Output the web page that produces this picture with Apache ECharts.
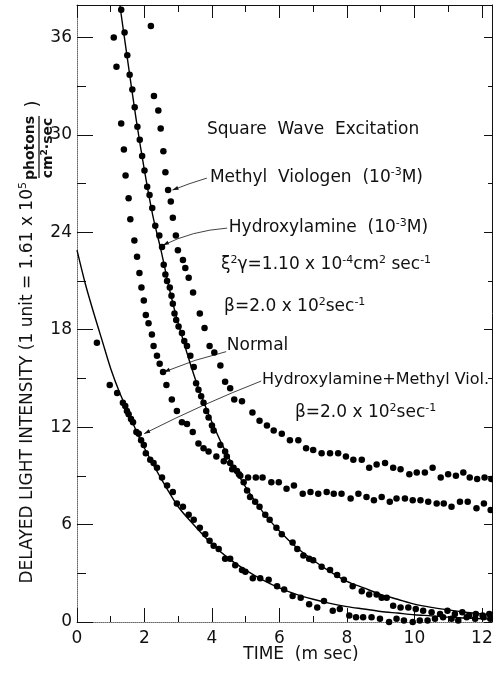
<!DOCTYPE html>
<html>
<head>
<meta charset="utf-8">
<script src="https://cdn.jsdelivr.net/npm/echarts@6/dist/echarts.min.js"></script>
<style>
  html, body { margin: 0; padding: 0; background: #fff; }
  #chart { width: 493px; height: 676px; }
</style>
</head>
<body>
<div id="chart"></div>
<script>
// [time (m sec), delayed light intensity]
const normal = [
  [1.09, 36.0], [1.17, 34.2], [1.31, 30.7], [1.39, 29.1], [1.44, 27.5], [1.53, 26.1], [1.58, 24.8],
  [1.70, 23.5], [1.78, 22.5], [1.85, 21.5], [1.91, 20.6], [1.98, 19.8], [2.04, 18.9], [2.12, 18.4],
  [2.22, 17.7], [2.27, 17.0], [2.37, 16.4], [2.45, 15.9], [2.55, 15.4], [2.65, 14.6], [2.81, 13.7],
  [2.96, 13.0], [3.11, 12.3], [3.26, 12.2], [3.43, 11.7], [3.60, 11.0], [3.75, 10.7], [3.90, 10.5],
  [4.13, 10.2], [4.35, 9.9], [4.60, 9.4], [4.80, 9.1], [5.07, 8.9], [5.30, 8.9], [5.50, 8.9],
  [5.76, 8.6], [5.98, 8.6], [6.21, 8.2], [6.43, 8.4], [6.69, 7.9], [6.92, 8.0], [7.15, 7.9],
  [7.40, 8.0], [7.61, 7.9], [7.84, 7.9], [8.11, 7.6], [8.34, 7.9], [8.58, 7.7], [8.80, 7.5],
  [9.03, 7.7], [9.27, 7.4], [9.47, 7.6], [9.72, 7.6], [9.95, 7.5], [10.18, 7.5], [10.41, 7.4],
  [10.66, 7.3], [10.87, 7.3], [11.10, 7.1], [11.35, 7.4], [11.58, 7.4], [11.84, 7.0], [12.06, 7.3],
  [12.26, 6.9]
];

const methylViologen = [
  [2.19, 36.7], [2.28, 32.4], [2.41, 31.5], [2.48, 30.4], [2.56, 29.0], [2.62, 27.7], [2.70, 26.6],
  [2.78, 25.9], [2.84, 24.9], [2.93, 23.8], [2.99, 22.9], [3.14, 22.3], [3.21, 21.8], [3.31, 21.2],
  [3.44, 20.3], [3.64, 19.0], [3.78, 18.1], [3.93, 17.0], [4.07, 16.6], [4.25, 15.8], [4.39, 14.8],
  [4.54, 14.4], [4.66, 13.7], [4.89, 13.6], [5.20, 12.9], [5.41, 12.4], [5.63, 12.1], [5.83, 11.8],
  [6.07, 11.6], [6.31, 11.2], [6.56, 11.2], [6.79, 10.7], [7.00, 10.6], [7.25, 10.4], [7.50, 10.4],
  [7.74, 10.4], [7.97, 10.2], [8.19, 10.0], [8.44, 10.0], [8.66, 9.5], [8.88, 9.7], [9.13, 9.8],
  [9.37, 9.5], [9.59, 9.4], [9.85, 9.1], [10.07, 9.2], [10.31, 9.2], [10.54, 9.5], [10.78, 8.9],
  [11.00, 9.1], [11.23, 9.0], [11.45, 9.2], [11.64, 8.9], [11.86, 8.8], [12.08, 8.9], [12.28, 8.8]
];

const hydroxylamine = [
  [1.31, 37.7], [1.41, 36.3], [1.49, 34.9], [1.56, 33.7], [1.64, 32.8], [1.71, 31.7], [1.79, 30.5],
  [1.86, 29.7], [1.93, 28.7], [2.00, 27.8], [2.08, 26.8], [2.15, 26.3], [2.23, 25.5], [2.32, 24.4],
  [2.44, 23.8], [2.52, 23.1], [2.57, 22.0], [2.62, 21.4], [2.67, 21.0], [2.75, 20.6], [2.80, 20.1],
  [2.84, 19.6], [2.89, 19.0], [2.94, 18.6], [3.01, 18.2], [3.11, 17.8], [3.18, 17.3], [3.26, 17.0],
  [3.36, 16.4], [3.46, 15.7], [3.53, 14.7], [3.60, 14.3], [3.68, 13.9], [3.75, 13.5], [3.83, 13.0],
  [3.90, 12.6], [4.00, 12.1], [4.05, 11.8], [4.25, 10.9], [4.39, 10.5], [4.44, 10.2], [4.54, 9.8],
  [4.64, 9.5], [4.74, 9.3], [4.84, 9.0], [4.94, 8.6], [5.04, 8.1], [5.13, 7.7], [5.28, 7.4],
  [5.41, 7.1], [5.58, 6.6], [5.71, 6.3], [5.91, 5.8], [6.07, 5.4], [6.39, 4.9], [6.53, 4.5],
  [6.71, 4.1], [6.88, 3.9], [7.00, 3.8], [7.25, 3.4], [7.50, 3.2], [7.71, 2.9], [7.91, 2.6],
  [8.17, 2.2], [8.44, 1.9], [8.66, 1.7], [8.88, 1.7], [9.03, 1.5], [9.18, 1.5], [9.37, 1.0],
  [9.59, 0.9], [9.82, 0.9], [10.04, 0.8], [10.26, 0.7], [10.51, 0.6], [10.76, 0.5], [10.98, 0.7],
  [11.20, 0.5], [11.42, 0.6], [11.62, 0.4], [11.82, 0.5], [12.02, 0.4], [12.22, 0.5]
];

const hydroxylamineMethylViol = [
  [0.59, 17.2], [0.97, 14.6], [1.19, 14.1], [1.36, 13.5], [1.43, 13.3], [1.48, 13.0], [1.53, 12.8],
  [1.60, 12.5], [1.66, 12.3], [1.76, 11.7], [1.83, 11.6], [1.90, 11.2], [1.98, 10.9], [2.04, 10.4],
  [2.17, 10.0], [2.27, 9.8], [2.37, 9.5], [2.52, 8.9], [2.67, 8.4], [2.84, 8.0], [2.96, 7.3],
  [3.14, 7.1], [3.31, 6.6], [3.46, 6.3], [3.64, 5.8], [3.80, 5.4], [3.93, 5.0], [4.05, 4.7],
  [4.20, 4.5], [4.39, 3.9], [4.54, 3.9], [4.69, 3.5], [4.89, 3.2], [4.99, 3.1], [5.21, 2.7],
  [5.43, 2.7], [5.68, 2.6], [5.93, 2.2], [6.14, 2.0], [6.39, 1.6], [6.63, 1.5], [6.88, 1.1],
  [7.12, 0.9], [7.32, 1.3], [7.58, 0.7], [7.79, 0.8], [8.07, 0.4], [8.27, 0.3], [8.48, 0.3],
  [8.73, 0.3], [8.98, 0.2], [9.25, 0.0], [9.47, 0.2], [9.69, 0.1], [9.95, 0.0], [10.16, 0.1],
  [10.39, 0.1], [10.61, 0.2], [10.85, 0.3], [11.10, 0.2], [11.30, 0.1], [11.55, 0.3], [11.80, 0.2],
  [12.05, 0.3], [12.25, 0.2]
];

// fitted curves
const hydroxylamineFit = [
  [1.27, 38.0], [1.5, 34.6], [1.75, 31.0], [2.0, 27.8], [2.25, 25.0], [2.5, 22.8], [2.75, 20.4],
  [3.0, 18.4], [3.5, 15.0], [4.0, 12.3], [4.5, 10.1], [5.0, 8.3], [5.5, 6.8], [6.0, 5.6],
  [6.5, 4.6], [7.0, 3.8], [7.5, 3.1], [8.0, 2.5], [8.5, 2.1], [9.0, 1.7], [9.5, 1.4], [10.0, 1.1],
  [10.5, 0.9], [11.0, 0.75], [11.5, 0.6], [12.0, 0.5], [12.3, 0.45]
];

const hydroxylamineMethylViolFit = [
  [0, 22.9], [0.25, 20.8], [0.5, 19.0], [0.75, 17.3], [1.0, 15.6], [1.25, 14.2], [1.5, 13.0],
  [1.75, 11.8], [2.0, 10.7], [2.5, 8.8], [3.0, 7.1], [3.5, 5.9], [4.0, 4.8], [4.5, 3.9],
  [5.0, 3.2], [5.5, 2.6], [6.0, 2.1], [6.5, 1.7], [7.0, 1.4], [7.5, 1.15], [8.0, 0.95], [8.5, 0.8],
  [9.0, 0.65], [9.5, 0.55], [10.0, 0.45], [10.5, 0.38], [11.0, 0.3], [11.5, 0.25], [12.0, 0.2],
  [12.3, 0.18]
];

// labels in the plot, placed in data units; ^{..} marks a superscript
const notes = [
  { text: 'Square  Wave  Excitation', at: [3.85, 30.3] },
  { text: 'Methyl  Viologen  (10^{-3}M)', at: [3.94, 27.4], from: [3.85, 27.34], bend: [3.3, 27.0], to: [2.83, 26.6] },
  { text: 'Hydroxylamine  (10^{-3}M)', at: [4.5, 24.3], from: [4.45, 24.26], bend: [3.4, 24.1], to: [2.55, 23.2] },
  { text: 'ξ^{2}γ=1.10 x 10^{-4}cm^{2} sec^{-1}', at: [4.27, 22.0] },
  { text: 'β=2.0 x 10^{2}sec^{-1}', at: [4.36, 19.4] },
  { text: 'Normal', at: [4.44, 17.0], from: [4.42, 16.65], bend: [3.5, 16.2], to: [2.58, 15.4] },
  { text: 'Hydroxylamine+Methyl Viol.', at: [5.48, 14.9], size: 16, from: [5.46, 14.84], bend: [3.8, 13.5], to: [1.99, 11.6] },
  { text: 'β=2.0 x 10^{2}sec^{-1}', at: [6.46, 12.9] }
];

const X_MAX = 12.3;
const Y_MAX = 38;
const INK = '#111';
const FAINT = '#666';
const FONT = '"DejaVu Sans", sans-serif';

const chart = echarts.init(document.getElementById('chart'));

function richText(str) {
  return str.split(/\^\{([^}]*)\}/)
    .map((part, i) => (part ? (i % 2 ? '{s|' + part + '}' : '{n|' + part + '}') : ''))
    .join('');
}

function richStyles(size) {
  return {
    n: { fontFamily: FONT, fontSize: size, lineHeight: 20, verticalAlign: 'middle', fill: INK, color: INK },
    s: { fontFamily: FONT, fontSize: Math.round(size * 0.65), lineHeight: 20, verticalAlign: 'top', fill: INK, color: INK }
  };
}

function axis(position, max, interval, tickLength, label, line) {
  return {
    type: 'value',
    position: position,
    min: 0,
    max: max,
    interval: interval,
    axisLine: {
      show: !!line,
      onZero: false,
      lineStyle: line === 'faint' ? { color: FAINT, width: 1, type: 'dotted' } : { color: INK, width: 1 }
    },
    axisTick: { show: true, inside: true, length: tickLength, lineStyle: { color: INK, width: 1 } },
    axisLabel: label
      ? Object.assign({ show: true, color: INK, fontFamily: FONT, fontSize: 17, showMaxLabel: false }, label)
      : { show: false },
    splitLine: { show: false }
  };
}

function dots(name, data) {
  return {
    name: name,
    type: 'scatter',
    data: data,
    symbol: 'circle',
    symbolSize: 6.5,
    itemStyle: { color: '#000', opacity: 1 },
    silent: true,
    z: 3
  };
}

function fit(name, data) {
  return {
    name: name,
    type: 'line',
    data: data,
    smooth: 0.3,
    symbol: 'none',
    lineStyle: { color: '#000', width: 1.4 },
    silent: true,
    z: 2
  };
}

chart.setOption({
  animation: false,
  backgroundColor: '#fff',
  grid: { left: 77, right: 1, top: 5, bottom: 54, outerBoundsMode: 'none', containLabel: false },
  xAxis: [
    axis('bottom', X_MAX, 2, 14, { margin: 8 }, 'faint'),
    axis('bottom', X_MAX, 1, 6, null, false),
    axis('top', X_MAX, 2, 13, null, true),
    axis('top', X_MAX, 1, 7, null, false)
  ],
  yAxis: [
    axis('left', Y_MAX, 6, 16, { margin: 5 }, 'faint'),
    axis('left', Y_MAX, 3, 9, null, false),
    axis('right', Y_MAX, 6, 8, null, true),
    axis('right', Y_MAX, 3, 4, null, false)
  ],
  series: [
    dots('Normal', normal),
    dots('Methyl Viologen', methylViologen),
    dots('Hydroxylamine', hydroxylamine),
    dots('Hydroxylamine+Methyl Viol.', hydroxylamineMethylViol),
    fit('Hydroxylamine fit', hydroxylamineFit),
    fit('Hydroxylamine+Methyl Viol. fit', hydroxylamineMethylViolFit)
  ]
});

const toPx = (p) => chart.convertToPixel({ seriesIndex: 0 }, p);

const graphics = [];

notes.forEach((note) => {
  const size = note.size || 17;
  const p = toPx(note.at);
  graphics.push({
    type: 'text',
    x: p[0],
    y: p[1],
    silent: true,
    style: {
      text: richText(note.text),
      rich: richStyles(size),
      fill: INK,
      align: 'left', textAlign: 'left',
      verticalAlign: 'middle', textVerticalAlign: 'middle'
    }
  });
  if (note.from) {
    const a = toPx(note.from);
    const c = toPx(note.bend);
    const b = toPx(note.to);
    graphics.push({
      type: 'bezierCurve',
      silent: true,
      shape: { x1: a[0], y1: a[1], x2: b[0], y2: b[1], cpx1: c[0], cpy1: c[1] },
      style: { stroke: INK, lineWidth: 0.8, fill: null }
    });
    const dx = b[0] - c[0];
    const dy = b[1] - c[1];
    const len = Math.hypot(dx, dy) || 1;
    const ux = dx / len, uy = dy / len;
    graphics.push({
      type: 'polygon',
      silent: true,
      shape: {
        points: [
          [b[0], b[1]],
          [b[0] - ux * 6 - uy * 2, b[1] - uy * 6 + ux * 2],
          [b[0] - ux * 6 + uy * 2, b[1] - uy * 6 - ux * 2]
        ]
      },
      style: { fill: INK }
    });
  }
});

// x axis title
graphics.push({
  type: 'text',
  x: 301,
  y: 655,
  silent: true,
  style: {
    text: 'TIME  (m sec)',
    font: '17px ' + FONT,
    fill: INK,
    align: 'center', textAlign: 'center',
    verticalAlign: 'middle', textVerticalAlign: 'middle'
  }
});

// y axis title, rotated to read upwards
graphics.push({
  type: 'group',
  x: 28,
  y: 600,
  rotation: Math.PI / 2,
  silent: true,
  children: [
    {
      type: 'text',
      x: 418,
      y: 0,
      style: {
        text: richText('DELAYED LIGHT INTENSITY (1 unit = 1.61 x 10^{5}'),
        rich: richStyles(17),
        fill: INK,
        align: 'right', textAlign: 'right',
        verticalAlign: 'middle', textVerticalAlign: 'middle'
      }
    },
    {
      type: 'text',
      x: 452,
      y: 2,
      style: {
        text: 'photons',
        font: 'bold 14px ' + FONT,
        fill: INK,
        align: 'center', textAlign: 'center',
        verticalAlign: 'middle', textVerticalAlign: 'middle'
      }
    },
    {
      type: 'line',
      shape: { x1: 422, y1: 11, x2: 484, y2: 11 },
      style: { stroke: INK, lineWidth: 1.3 }
    },
    {
      type: 'text',
      x: 452,
      y: 20,
      style: {
        text: '{b|cm}{t|2}{b|·sec}',
        rich: {
          b: { fontFamily: FONT, fontWeight: 'bold', fontSize: 14, lineHeight: 16, verticalAlign: 'middle', fill: INK, color: INK },
          t: { fontFamily: FONT, fontWeight: 'bold', fontSize: 9, lineHeight: 16, verticalAlign: 'top', fill: INK, color: INK }
        },
        fill: INK,
        align: 'center', textAlign: 'center',
        verticalAlign: 'middle', textVerticalAlign: 'middle'
      }
    },
    {
      type: 'text',
      x: 496,
      y: 6,
      style: {
        text: ')',
        font: '17px ' + FONT,
        fill: INK,
        align: 'center', textAlign: 'center',
        verticalAlign: 'middle', textVerticalAlign: 'middle'
      }
    }
  ]
});

chart.setOption({ graphic: graphics });
</script>
</body>
</html>
